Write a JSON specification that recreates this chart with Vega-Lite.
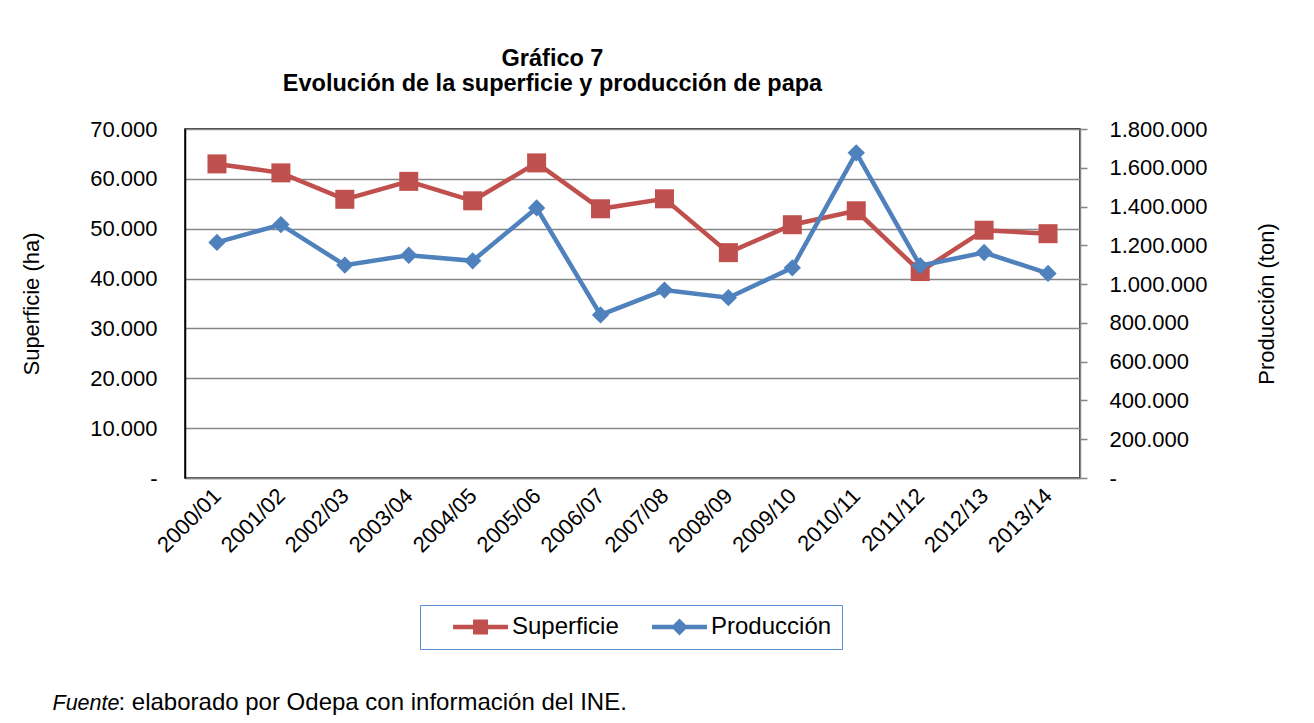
{
  "$schema": "https://vega.github.io/schema/vega-lite/v6.json",
  "autosize": "none",
  "width": 895,
  "height": 349,
  "padding": {"left": 185, "top": 129, "right": 234, "bottom": 245},
  "background": "white",
  "config": {
    "font": "Liberation Sans",
    "locale": {"number": {"decimal": ",", "thousands": ".", "grouping": [3], "currency": ["$", ""]}},
    "view": {"stroke": "#000000", "strokeWidth": 1.5},
    "axis": {"labelFont": "Liberation Sans", "titleFont": "Liberation Sans", "labelColor": "#000", "titleColor": "#000", "titleFontWeight": "normal"}
  },
  "title": {
    "text": ["Gráfico 7", "Evolución de la superficie y producción de papa"],
    "font": "Liberation Sans",
    "fontSize": 23.5,
    "fontWeight": "bold",
    "color": "#000",
    "anchor": "middle",
    "frame": "group",
    "dx": -80,
    "offset": 23,
    "lineHeight": 25
  },
  "data": {
    "values": [
      {"periodo": "2000/01", "serie": "Superficie", "valor": 63000},
      {"periodo": "2001/02", "serie": "Superficie", "valor": 61200},
      {"periodo": "2002/03", "serie": "Superficie", "valor": 55900},
      {"periodo": "2003/04", "serie": "Superficie", "valor": 59500},
      {"periodo": "2004/05", "serie": "Superficie", "valor": 55600},
      {"periodo": "2005/06", "serie": "Superficie", "valor": 63200},
      {"periodo": "2006/07", "serie": "Superficie", "valor": 54000},
      {"periodo": "2007/08", "serie": "Superficie", "valor": 56000},
      {"periodo": "2008/09", "serie": "Superficie", "valor": 45200},
      {"periodo": "2009/10", "serie": "Superficie", "valor": 50800},
      {"periodo": "2010/11", "serie": "Superficie", "valor": 53600},
      {"periodo": "2011/12", "serie": "Superficie", "valor": 41400},
      {"periodo": "2012/13", "serie": "Superficie", "valor": 49700},
      {"periodo": "2013/14", "serie": "Superficie", "valor": 49000},
      {"periodo": "2000/01", "serie": "Producción", "valor": 1215000},
      {"periodo": "2001/02", "serie": "Producción", "valor": 1307000},
      {"periodo": "2002/03", "serie": "Producción", "valor": 1098000},
      {"periodo": "2003/04", "serie": "Producción", "valor": 1149000},
      {"periodo": "2004/05", "serie": "Producción", "valor": 1120000},
      {"periodo": "2005/06", "serie": "Producción", "valor": 1393000},
      {"periodo": "2006/07", "serie": "Producción", "valor": 841000},
      {"periodo": "2007/08", "serie": "Producción", "valor": 969000},
      {"periodo": "2008/09", "serie": "Producción", "valor": 930000},
      {"periodo": "2009/10", "serie": "Producción", "valor": 1084000},
      {"periodo": "2010/11", "serie": "Producción", "valor": 1677000},
      {"periodo": "2011/12", "serie": "Producción", "valor": 1095000},
      {"periodo": "2012/13", "serie": "Producción", "valor": 1163000},
      {"periodo": "2013/14", "serie": "Producción", "valor": 1055000}
    ]
  },
  "layer": [
    {
      "transform": [{"filter": "datum.serie === 'Superficie'"}],
      "mark": {"type": "line", "strokeWidth": 4.5, "point": {"shape": "square", "size": 361, "filled": true, "opacity": 1}},
      "encoding": {
        "x": {
          "field": "periodo", "type": "ordinal",
          "scale": {"type": "point", "padding": 0.5},
          "axis": {
            "orient": "bottom", "labelAngle": -45, "labelAlign": "right", "labelBaseline": "middle",
            "labelFontSize": 22, "labelPadding": 14, "ticks": false,
            "domainColor": "#868686", "domainWidth": 1.5, "grid": false,
            "title": "Fuente", "titleFontStyle": "italic", "titleFontSize": 21.5,
            "titleAlign": "left", "titleBaseline": "alphabetic", "titleAngle": 0,
            "titleX": -133, "titleY": 231
          }
        },
        "y": {
          "field": "valor", "type": "quantitative",
          "scale": {"domain": [0, 70000], "nice": false},
          "axis": {
            "orient": "left", "values": [0, 10000, 20000, 30000, 40000, 50000, 60000, 70000],
            "format": ",d", "labelExpr": "datum.value === 0 ? '-' : datum.label",
            "labelFontSize": 22, "labelPadding": 28, "ticks": false,
            "domainColor": "#000", "domainWidth": 1.5,
            "grid": true, "gridColor": "#868686", "gridWidth": 1.5,
            "title": "Superficie (ha)", "titleFontSize": 22, "titlePadding": 46
          }
        },
        "color": {
          "field": "serie", "type": "nominal",
          "scale": {"domain": ["Superficie", "Producción"], "range": ["#c0504d", "#4f81bd"]},
          "legend": {
            "title": null, "orient": "none", "direction": "horizontal",
            "legendX": 235, "legendY": 476,
            "strokeColor": "#5b8fd0", "padding": 10,
            "symbolSize": 196, "symbolStrokeWidth": 0,
            "labelOffset": 58, "columnPadding": 10,
            "labelFontSize": 24, "labelFont": "Liberation Sans", "labelColor": "#000",
            "encode": {
              "symbols": {
                "update": {
                  "shape": {"signal": "datum.value === 'Superficie' ? 'M1.58,-0.32H9.43V0.32H1.58Z M4.43,-1.07H6.57V1.07H4.43Z' : 'M1.58,-0.32H9.43V0.32H1.58Z M5.5,-1.2L6.7,0L5.5,1.2L4.3,0Z'"},
                  "fill": {"signal": "datum.value === 'Superficie' ? '#c0504d' : '#4f81bd'"},
                  "strokeWidth": {"value": 0},
                  "opacity": {"value": 1}
                }
              }
            }
          }
        }
      }
    },
    {
      "transform": [{"filter": "datum.serie === 'Producción'"}],
      "mark": {"type": "line", "strokeWidth": 4.5, "point": {"shape": "diamond", "size": 300, "filled": true, "opacity": 1}},
      "encoding": {
        "x": {
          "field": "periodo", "type": "ordinal",
          "scale": {"type": "point", "padding": 0.5},
          "axis": {
            "orient": "bottom", "labels": false, "ticks": false, "domain": false, "grid": false,
            "title": ": elaborado por Odepa con información del INE.", "titleFontSize": 24,
            "titleAlign": "left", "titleBaseline": "alphabetic", "titleAngle": 0,
            "titleX": -67, "titleY": 231
          }
        },
        "y": {
          "field": "valor", "type": "quantitative",
          "scale": {"domain": [0, 1800000], "nice": false},
          "axis": {
            "orient": "right", "values": [0, 200000, 400000, 600000, 800000, 1000000, 1200000, 1400000, 1600000, 1800000],
            "format": ",d", "labelExpr": "datum.value === 0 ? '-' : datum.label",
            "labelFontSize": 22, "labelPadding": 22, "ticks": true, "tickSize": 7, "tickColor": "#868686", "tickWidth": 1.5,
            "domainColor": "#868686", "domainWidth": 1.5, "grid": false,
            "title": "Producción (ton)", "titleFontSize": 22, "titleAngle": 270, "titlePadding": 72
          }
        },
        "color": {
          "field": "serie", "type": "nominal",
          "scale": {"domain": ["Superficie", "Producción"], "range": ["#c0504d", "#4f81bd"]}
        }
      }
    }
  ],
  "resolve": {"scale": {"y": "independent"}, "axis": {"x": "independent"}}
}
